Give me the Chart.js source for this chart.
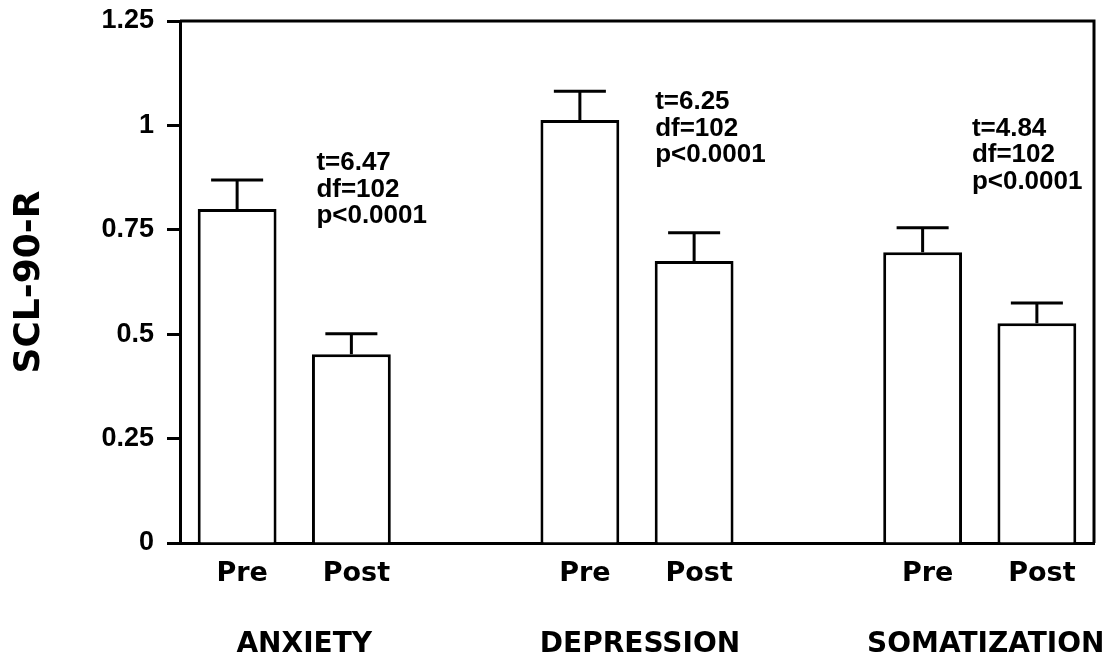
<!DOCTYPE html>
<html>
<head>
<meta charset="utf-8">
<title>SCL-90-R Pre/Post</title>
<script src="https://cdn.jsdelivr.net/npm/chart.js@4.4.1/dist/chart.umd.min.js"></script>
<style>
  html, body { margin: 0; padding: 0; background: #ffffff; }
  #wrap { width: 1113px; height: 660px; }
</style>
</head>
<body>
<div id="wrap"><canvas id="chart" width="1113" height="660"></canvas></div>
<script>
// Subscales and time points
const groups = ['ANXIETY', 'DEPRESSION', 'SOMATIZATION'];
const phases = ['Pre', 'Post'];

// Mean SCL-90-R scores
const preMeans  = [0.80, 1.013, 0.696];
const postMeans = [0.452, 0.675, 0.526];

// Upper error-bar length (standard error)
const preErr  = [0.069, 0.069, 0.059];
const postErr = [0.049, 0.068, 0.049];

// Paired t-test results
const tValues = ['6.47', '6.25', '4.84'];
const dfValues = ['102', '102', '102'];
const pValues = ['p<0.0001', 'p<0.0001', 'p<0.0001'];

// Y axis ticks
const yTicks = [0, 0.25, 0.5, 0.75, 1, 1.25];

// Build category slots: Pre, Post, gap, Pre, Post, gap, Pre, Post
const labels = [];
const values = [];
const errors = [];
const groupOfSlot = [];
groups.forEach((g, i) => {
  if (i > 0) { labels.push(''); values.push(null); errors.push(null); groupOfSlot.push(null); }
  labels.push(phases[0]); values.push(preMeans[i]); errors.push(preErr[i]); groupOfSlot.push(i);
  labels.push(phases[1]); values.push(postMeans[i]); errors.push(postErr[i]); groupOfSlot.push(i);
});

const INK = '#000000';

// Error bars (upper whisker with cap) drawn from the bar values
const errorBarPlugin = {
  id: 'errorBars',
  afterDatasetsDraw(chart) {
    const ctx = chart.ctx;
    const y = chart.scales.y;
    const meta = chart.getDatasetMeta(0);
    ctx.save();
    ctx.strokeStyle = INK;
    ctx.lineWidth = 3;
    ctx.lineCap = 'butt';
    meta.data.forEach((bar, i) => {
      const v = values[i];
      const e = errors[i];
      if (v === null || e === null) return;
      const yTop = y.getPixelForValue(v + e);
      const yBase = y.getPixelForValue(v);
      const capHalf = bar.width * 0.33;
      ctx.beginPath();
      ctx.moveTo(bar.x, yBase);
      ctx.lineTo(bar.x, yTop);
      ctx.moveTo(bar.x - capHalf, yTop);
      ctx.lineTo(bar.x + capHalf, yTop);
      ctx.stroke();
    });
    ctx.restore();
  }
};

// Closed frame (top and right edges) around the plot area
const framePlugin = {
  id: 'frame',
  afterDraw(chart) {
    const { ctx, chartArea: a } = chart;
    ctx.save();
    ctx.strokeStyle = INK;
    ctx.lineWidth = 3;
    ctx.beginPath();
    ctx.moveTo(a.left, a.top);
    ctx.lineTo(a.right, a.top);
    ctx.lineTo(a.right, a.bottom);
    ctx.stroke();
    ctx.restore();
  }
};

// Group names under each Pre/Post pair, and the t-test notes
const textPlugin = {
  id: 'groupText',
  afterDraw(chart, args, opts) {
    const { ctx } = chart;
    const x = chart.scales.x;
    const y = chart.scales.y;
    ctx.save();
    ctx.fillStyle = INK;

    // group captions
    ctx.font = 'bold 28px "DejaVu Sans"';
    ctx.textAlign = 'center';
    ctx.textBaseline = 'middle';
    groups.forEach((g, i) => {
      const preIdx = groupOfSlot.indexOf(i);
      const cx = (x.getPixelForValue(preIdx) + x.getPixelForValue(preIdx + 1)) / 2 + opts.captionShift[i];
      ctx.fillText(g, cx, opts.captionY);
    });

    // statistics notes
    ctx.font = 'bold 26px "Liberation Sans"';
    ctx.textAlign = 'left';
    ctx.textBaseline = 'alphabetic';
    groups.forEach((g, i) => {
      const postIdx = groupOfSlot.indexOf(i) + 1;
      const left = x.getPixelForValue(postIdx) + opts.noteShiftX[i];
      const base = y.getPixelForValue(opts.noteAtValue[i]);
      const lines = ['t=' + tValues[i], 'df=' + dfValues[i], pValues[i]];
      lines.forEach((s, k) => ctx.fillText(s, left, base + k * opts.noteLineHeight));
    });
    ctx.restore();
  }
};

new Chart(document.getElementById('chart'), {
  type: 'bar',
  data: {
    labels: labels,
    datasets: [{
      data: values,
      backgroundColor: '#ffffff',
      borderColor: INK,
      borderWidth: 3,
      borderSkipped: 'start',
      barPercentage: 0.69,
      categoryPercentage: 1.0
    }]
  },
  options: {
    responsive: false,
    animation: false,
    devicePixelRatio: 1,
    layout: { padding: { left: 0, right: 19, top: 21, bottom: 0 } },
    plugins: {
      legend: { display: false },
      tooltip: { enabled: false },
      groupText: {
        captionY: 645,
        captionShift: [10, 3, 6],
        noteShiftX: [-35, -39, -65],
        noteAtValue: [0.893, 1.039, 0.975],
        noteLineHeight: 26.5
      }
    },
    scales: {
      x: {
        type: 'category',
        offset: true,
        grid: { display: false, drawTicks: false, tickLength: 0 },
        border: { display: true, color: INK, width: 3 },
        ticks: {
          color: INK,
          padding: 15,
          labelOffset: 5,
          maxRotation: 0,
          autoSkip: false,
          font: { family: '"DejaVu Sans"', size: 27, weight: 'bold' }
        },
        afterFit(scale) {
          scale.height = 117;
          scale.paddingLeft = 0;
          scale.paddingRight = 0;
        }
      },
      y: {
        min: yTicks[0],
        max: yTicks[yTicks.length - 1],
        afterBuildTicks(scale) { scale.ticks = yTicks.map(v => ({ value: v })); },
        grid: {
          display: true,
          drawOnChartArea: false,
          drawTicks: true,
          tickLength: 13,
          tickWidth: 3,
          tickColor: INK,
          color: INK
        },
        border: { display: true, color: INK, width: 3 },
        ticks: {
          color: INK,
          padding: 13,
          font: { family: '"Liberation Sans"', size: 27, weight: 'bold' },
          callback: (v) => String(v)
        },
        title: {
          display: true,
          text: 'SCL-90-R',
          color: INK,
          padding: { top: 8, bottom: 0 },
          font: { family: '"DejaVu Sans"', size: 36, weight: 'bold', lineHeight: 1.2 }
        },
        afterFit(scale) {
          scale.width = 180;
          scale.paddingTop = 0;
          scale.paddingBottom = 0;
        }
      }
    }
  },
  plugins: [errorBarPlugin, framePlugin, textPlugin]
});
</script>
</body>
</html>
